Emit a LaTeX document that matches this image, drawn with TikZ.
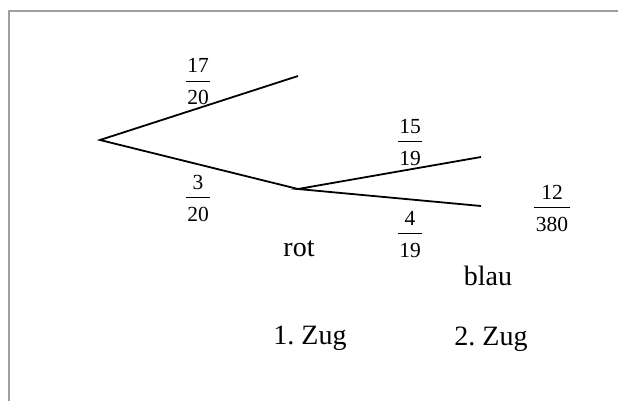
\documentclass[tikz,border=0pt]{standalone}
\usepackage{fontspec}
\setmainfont{Liberation Serif}
\frenchspacing
\newcommand{\myfr}[2]{{\fontsize{21.5}{25}\selectfont\setlength{\arrayrulewidth}{1pt}\setlength{\tabcolsep}{1.5pt}\begin{tabular}{c}\rule[-8pt]{0pt}{23pt}#1\\\hline\rule{0pt}{23pt}#2\end{tabular}}}
\begin{document}
\begin{tikzpicture}[x=1pt,y=-1pt,
  branch/.style={line width=1.8pt,black},
  frame/.style={line width=1.6pt,color=gray!75},
  lbl/.style={inner sep=0pt,anchor=base,font=\fontsize{28}{34}\selectfont},
  frac/.style={inner sep=0pt,yshift=-3pt}]
\useasboundingbox (0,0) rectangle (618,401);
\draw[frame] (9,401) -- (9,11) -- (618,11);
\coordinate (r) at (100,140);
\coordinate (a1) at (298,76);
\coordinate (a2) at (298,189);
\coordinate (b1) at (481,157);
\coordinate (b2) at (481,206);
\draw[branch] (a1) -- (r) -- (a2);
\draw[branch] (b1) -- (a2) -- (b2);
\node[frac] (f1) at (198,81) {\myfr{17}{20}};
\node[frac] (f2) at (198,197) {\myfr{3}{20}};
\node[frac] (f3) at (410,141) {\myfr{15}{19}};
\node[frac] (f4) at (410,233) {\myfr{4}{19}};
\node[frac] (f5) at (552,207) {\myfr{12}{380}};
\node[lbl] (rot) at (299,256) {rot};
\node[lbl] (blau) at (488,285) {blau};
\node[lbl] (z1) at (310,344) {1. Zug};
\node[lbl] (z2) at (491,345) {2. Zug};
\end{tikzpicture}
\end{document}
